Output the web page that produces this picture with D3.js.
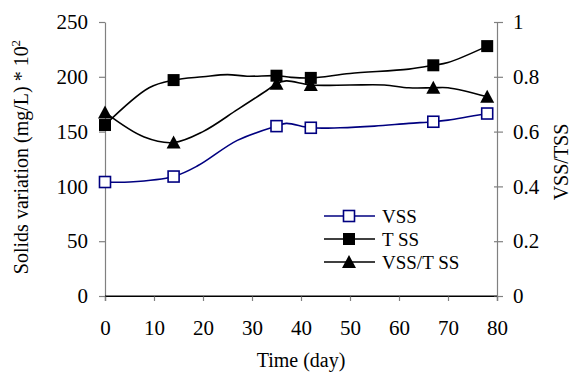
<!DOCTYPE html>
<html>
<head>
<meta charset="utf-8">
<script src="https://cdn.jsdelivr.net/npm/d3@7"></script>
<style>
  body { margin: 0; background: #fff; }
  svg text { font-family: "Liberation Serif", "Times New Roman", serif; fill: #000; }
</style>
</head>
<body>
<svg id="chart" width="574" height="374"></svg>
<script>
// values
const vssDays = [0, 5, 14, 19, 27, 35, 37, 42, 48, 55, 62, 67, 70, 78];
const vssVals = [104, 104, 109, 119, 142, 155, 157.5, 153.5, 153.5, 155, 157.5, 159, 160.5, 166.5];

const tssDays = [0, 9, 14, 20, 25, 29, 35, 38, 42, 50, 62, 67, 70, 78];
const tssVals = [156, 190, 197, 200, 202, 200.5, 201, 199.5, 199, 203, 207, 210.5, 213, 228];

const ratioDays = [0, 8, 14, 20, 27, 33, 35, 37, 42, 50, 57, 62, 67, 70, 78];
const ratioVals = [0.67, 0.58, 0.56, 0.60, 0.68, 0.75, 0.775, 0.785, 0.77, 0.77, 0.77, 0.76, 0.76, 0.76, 0.727];

// markers only at sampling days
const markerDays = [0, 14, 35, 42, 67, 78];

const xTicks = [0, 10, 20, 30, 40, 50, 60, 70, 80];
const yTicks = [0, 50, 100, 150, 200, 250];
const y2Ticks = [0, 0.2, 0.4, 0.6, 0.8, 1];

const serif = '"Liberation Serif", "Times New Roman", serif';
const svg = d3.select('#chart');

const x = d3.scaleLinear().domain([0, 80]).range([105, 497]);
const y = d3.scaleLinear().domain([0, 250]).range([296, 22]);
const y2 = d3.scaleLinear().domain([0, 1]).range([296, 22]);

// axes
const gx = svg.append('g')
    .attr('transform', 'translate(0,296)')
    .call(d3.axisBottom(x).tickValues(xTicks).tickSize(5).tickPadding(19).tickFormat(d3.format('d')));
gx.attr('font-family', serif);
gx.select('.domain').attr('stroke', '#000').attr('stroke-width', 1.2);
gx.selectAll('.tick line').attr('stroke', '#808080').attr('stroke-width', 1.2);
gx.selectAll('text').style('font-size', '21px').style('font-family', serif);

const gy = svg.append('g')
    .attr('transform', 'translate(105,0)')
    .call(d3.axisLeft(y).tickValues(yTicks).tickSize(6).tickPadding(11).tickSizeOuter(0));
gy.attr('font-family', serif);
gy.select('.domain').attr('stroke', '#808080').attr('stroke-width', 1.2);
gy.selectAll('.tick line').attr('stroke', '#808080').attr('stroke-width', 1.2);
gy.selectAll('text').style('font-size', '21px').style('font-family', serif);

const gy2 = svg.append('g')
    .attr('transform', 'translate(497,0)')
    .call(d3.axisRight(y2).tickValues(y2Ticks).tickSize(6).tickPadding(10).tickSizeOuter(0)
        .tickFormat(d => d === 0 || d === 1 ? d3.format('d')(d) : d3.format('.1f')(d)));
gy2.attr('font-family', serif);
gy2.select('.domain').attr('stroke', '#808080').attr('stroke-width', 1.2);
gy2.selectAll('.tick line').attr('x1', -3).attr('stroke', '#808080').attr('stroke-width', 1.2);
gy2.selectAll('text').style('font-size', '21px').style('font-family', serif);

// redraw bottom domain on top of left/right axis lines
svg.append('line')
    .attr('x1', 105).attr('x2', 497).attr('y1', 296).attr('y2', 296)
    .attr('stroke', '#000').attr('stroke-width', 1.2);

// titles
svg.append('text')
    .attr('transform', 'translate(28,157) rotate(-90)')
    .attr('text-anchor', 'middle')
    .style('font-size', '20px')
    .text('Solids variation (mg/L) * 10')
    .append('tspan')
    .attr('dy', -8)
    .style('font-size', '13px')
    .text('2');

svg.append('text')
    .attr('transform', 'translate(568,162) rotate(-90)')
    .attr('text-anchor', 'middle')
    .style('font-size', '20px')
    .text('VSS/TSS');

svg.append('text')
    .attr('x', 301).attr('y', 367)
    .attr('text-anchor', 'middle')
    .style('font-size', '20px')
    .text('Time (day)');

// series
const series = [
  { name: 'VSS', days: vssDays, vals: vssVals, scale: y, color: '#000080', marker: 'openSquare' },
  { name: 'T SS', days: tssDays, vals: tssVals, scale: y, color: '#000', marker: 'square' },
  { name: 'VSS/T SS', days: ratioDays, vals: ratioVals, scale: y2, color: '#000', marker: 'triangle' }
];

function drawMarker(g, type, color) {
  if (type === 'openSquare') {
    g.append('rect').attr('x', -5.5).attr('y', -5.5).attr('width', 11).attr('height', 11)
      .attr('fill', '#fff').attr('stroke', color).attr('stroke-width', 1.6);
  } else if (type === 'square') {
    g.append('rect').attr('x', -6).attr('y', -6).attr('width', 12).attr('height', 12)
      .attr('fill', color);
  } else {
    g.append('path').attr('d', 'M0,-7L7,6L-7,6Z').attr('fill', color);
  }
}

const line = d3.line().curve(d3.curveCatmullRom.alpha(0.5));

series.forEach(s => {
  const pts = s.days.map((d, i) => [x(d), s.scale(s.vals[i])]);
  svg.append('path')
    .attr('d', line(pts))
    .attr('fill', 'none')
    .attr('stroke', s.color)
    .attr('stroke-width', 1.6);
});

series.forEach(s => {
  markerDays.forEach(md => {
    const i = s.days.indexOf(md);
    const g = svg.append('g').attr('transform', `translate(${x(md)},${s.scale(s.vals[i])})`);
    drawMarker(g, s.marker, s.color);
  });
});

// legend
const legend = svg.append('g');
series.forEach((s, i) => {
  const ly = 216 + i * 23;
  legend.append('line')
    .attr('x1', 324).attr('x2', 375).attr('y1', ly).attr('y2', ly)
    .attr('stroke', s.color).attr('stroke-width', 1.6);
  const g = legend.append('g').attr('transform', `translate(349,${ly})`);
  drawMarker(g, s.marker, s.color);
  legend.append('text')
    .attr('x', 382).attr('y', ly + 7)
    .style('font-size', '19px')
    .text(s.name);
});
</script>
</body>
</html>
